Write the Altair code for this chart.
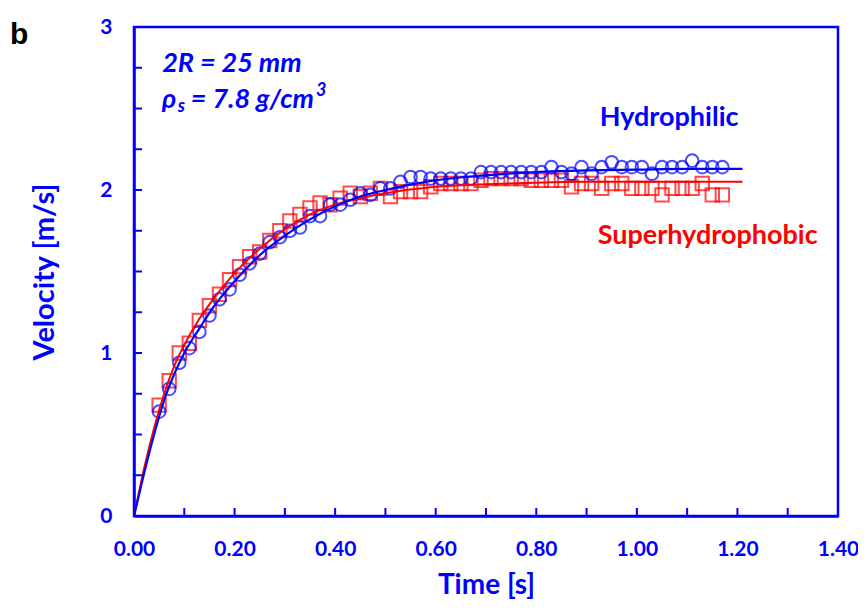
import altair as alt
import pandas as pd

# ---- data ----
t_pts = [0.05, 0.07, 0.09, 0.11, 0.13, 0.15, 0.17, 0.19, 0.21, 0.23, 0.25, 0.27, 0.29, 0.31,
         0.33, 0.35, 0.37, 0.39, 0.41, 0.43, 0.45, 0.47, 0.49, 0.51, 0.53, 0.55, 0.57, 0.59,
         0.61, 0.63, 0.65, 0.67, 0.69, 0.71, 0.73, 0.75, 0.77, 0.79, 0.81, 0.83, 0.85, 0.87,
         0.89, 0.91, 0.93, 0.95, 0.97, 0.99, 1.01, 1.03, 1.05, 1.07, 1.09, 1.11, 1.13, 1.15, 1.17]

v_hydrophilic = [0.64, 0.78, 0.94, 1.03, 1.13, 1.23, 1.33, 1.39, 1.48, 1.55, 1.61, 1.68, 1.71, 1.75,
                 1.77, 1.84, 1.84, 1.91, 1.91, 1.94, 1.98, 1.97, 2.01, 2.01, 2.05, 2.08, 2.08, 2.07,
                 2.07, 2.07, 2.07, 2.07, 2.11, 2.11, 2.11, 2.11, 2.11, 2.11, 2.11, 2.14, 2.11, 2.10,
                 2.14, 2.10, 2.14, 2.17, 2.14, 2.14, 2.14, 2.10, 2.14, 2.14, 2.14, 2.18, 2.14, 2.14, 2.14]

v_superhydrophobic = [0.68, 0.83, 1.00, 1.06, 1.20, 1.29, 1.36, 1.45, 1.53, 1.59, 1.62, 1.69, 1.75, 1.81,
                      1.85, 1.89, 1.92, 1.91, 1.95, 1.98, 1.96, 1.98, 2.01, 1.96, 1.99, 1.99, 1.99, 2.02,
                      2.04, 2.04, 2.04, 2.04, 2.06, 2.07, 2.07, 2.07, 2.07, 2.06, 2.06, 2.06, 2.06, 2.02,
                      2.04, 2.04, 2.01, 2.04, 2.04, 2.01, 2.01, 2.01, 1.97, 2.01, 2.01, 2.01, 2.04, 1.97, 1.97]

# fitted curves
t_fit = [0.0, 0.02, 0.04, 0.06, 0.08, 0.10, 0.13, 0.16, 0.20, 0.25, 0.30, 0.35, 0.40, 0.45,
         0.50, 0.60, 0.70, 0.80, 0.90, 1.00, 1.10, 1.21]
v_fit_hydrophilic = [0.0, 0.26, 0.50, 0.71, 0.87, 1.00, 1.15, 1.29, 1.44, 1.60, 1.72, 1.82, 1.90, 1.96,
                     2.00, 2.06, 2.09, 2.11, 2.12, 2.125, 2.13, 2.13]
v_fit_superhydrophobic = [0.0, 0.29, 0.54, 0.75, 0.92, 1.05, 1.21, 1.34, 1.49, 1.64, 1.76, 1.85, 1.91, 1.95,
                          1.98, 2.02, 2.035, 2.045, 2.05, 2.05, 2.05, 2.05]

x_tick_vals = [0.0, 0.2, 0.4, 0.6, 0.8, 1.0, 1.2, 1.4]
x_minor = [0.1, 0.2, 0.3, 0.4, 0.5, 0.6, 0.7, 0.8, 0.9, 1.0, 1.1, 1.2, 1.3]
y_tick_vals = [0, 1, 2, 3]
y_minor = [0.25, 0.5, 0.75, 1.0, 1.25, 1.5, 1.75, 2.0, 2.25, 2.5, 2.75]

BLUE = "#0000ff"
RED = "#ff0000"
FONT = "Lato"
W, H = 704, 489

pts_h = pd.DataFrame({"t": t_pts, "v": v_hydrophilic})
pts_s = pd.DataFrame({"t": t_pts, "v": v_superhydrophobic})
fit_h = pd.DataFrame({"t": t_fit, "v": v_fit_hydrophilic})
fit_s = pd.DataFrame({"t": t_fit, "v": v_fit_superhydrophobic})

xs = alt.Scale(domain=[0, 1.4], nice=False, zero=False)
ys = alt.Scale(domain=[0, 3], nice=False, zero=False)

x_axis = alt.Axis(values=x_tick_vals, format=".2f", tickSize=0, grid=False, labelFlush=False,
                  domainColor=BLUE, domainWidth=2.5, labelColor=BLUE, labelFont=FONT,
                  labelFontSize=21, labelFontWeight="bold", labelPadding=22,
                  title="Time [s]", titleColor=BLUE, titleFont=FONT, titleFontSize=28,
                  titleFontWeight="bold", titlePadding=12)
y_axis = alt.Axis(values=y_tick_vals, format="d", tickSize=0, grid=False, labelFlush=False,
                  domainColor=BLUE, domainWidth=2.5, labelColor=BLUE, labelFont=FONT,
                  labelFontSize=21, labelFontWeight="bold", labelPadding=22,
                  title="Velocity [m/s]", titleColor=BLUE, titleFont=FONT, titleFontSize=29,
                  titleFontWeight="bold", titlePadding=40)


def X(field="t"):
    return alt.X(f"{field}:Q", scale=xs, axis=x_axis)


def Y(field="v"):
    return alt.Y(f"{field}:Q", scale=ys, axis=y_axis)


sq = alt.Chart(pts_s).mark_point(shape="square", size=180, filled=False, color=RED,
                                  strokeWidth=2).encode(x=X(), y=Y())

circ = alt.Chart(pts_h).mark_point(shape="circle", size=160, filled=False, color=BLUE,
                                    strokeWidth=2).encode(x=X(), y=Y())

line_s = alt.Chart(fit_s).mark_line(color=RED, strokeWidth=2, interpolate="monotone").encode(
    x=X(), y=Y())
line_h = alt.Chart(fit_h).mark_line(color=BLUE, strokeWidth=2.2, interpolate="monotone").encode(
    x=X(), y=Y())

xt = alt.Chart(pd.DataFrame({"t": x_minor})).mark_rule(color=BLUE, strokeWidth=2).encode(
    x=X(), y=alt.value(H), y2=alt.value(H - 8))
yt = alt.Chart(pd.DataFrame({"v": y_minor})).mark_rule(color=BLUE, strokeWidth=2).encode(
    y=Y(), x=alt.value(0), x2=alt.value(8))

# annotations
ann = pd.DataFrame({
    "t": [0.056, 0.0557, 0.113],
    "v": [2.77, 2.55, 2.55],
    "txt": ["2R = 25 mm", "\u03c1", "= 7.8 g/cm"],
})
ann_main = alt.Chart(ann).mark_text(align="left", baseline="middle", font=FONT, fontSize=27,
                                    fontStyle="italic", fontWeight="bold", color=BLUE).encode(
    x=X(), y=Y(), text="txt:N")

ann_small = pd.DataFrame({"t": [0.087, 0.362], "v": [2.51, 2.61], "txt": ["s", "3"]})
ann_sub = alt.Chart(ann_small).mark_text(align="left", baseline="middle", font=FONT, fontSize=18,
                                         fontStyle="italic", fontWeight="bold", color=BLUE).encode(
    x=X(), y=Y(), text="txt:N")

lab_h = alt.Chart(pd.DataFrame({"t": [0.926], "v": [2.44], "txt": ["Hydrophilic"]})).mark_text(
    align="left", baseline="middle", font=FONT, fontSize=27, fontWeight="bold", color=BLUE).encode(
    x=X(), y=Y(), text="txt:N")
lab_s = alt.Chart(pd.DataFrame({"t": [0.922], "v": [1.72], "txt": ["Superhydrophobic"]})).mark_text(
    align="left", baseline="middle", font=FONT, fontSize=27, fontWeight="bold", color=RED).encode(
    x=X(), y=Y(), text="txt:N")

panel = alt.Chart(pd.DataFrame({"txt": ["b"]})).mark_text(
    align="left", baseline="middle", font="Liberation Sans", fontSize=30, fontWeight="bold",
    color="black").encode(x=alt.value(-124), y=alt.value(8), text="txt:N")

chart = alt.layer(sq, circ, line_s, line_h, xt, yt, ann_main, ann_sub, lab_h, lab_s, panel).properties(
    width=W, height=H,
    autosize=alt.AutoSizeParams(type="none"),
    padding={"left": 126, "top": 19, "right": 20, "bottom": 86},
).configure_view(stroke=BLUE, strokeWidth=2.5)

chart.save("out.html", embed_options={"renderer": "svg", "actions": False})
